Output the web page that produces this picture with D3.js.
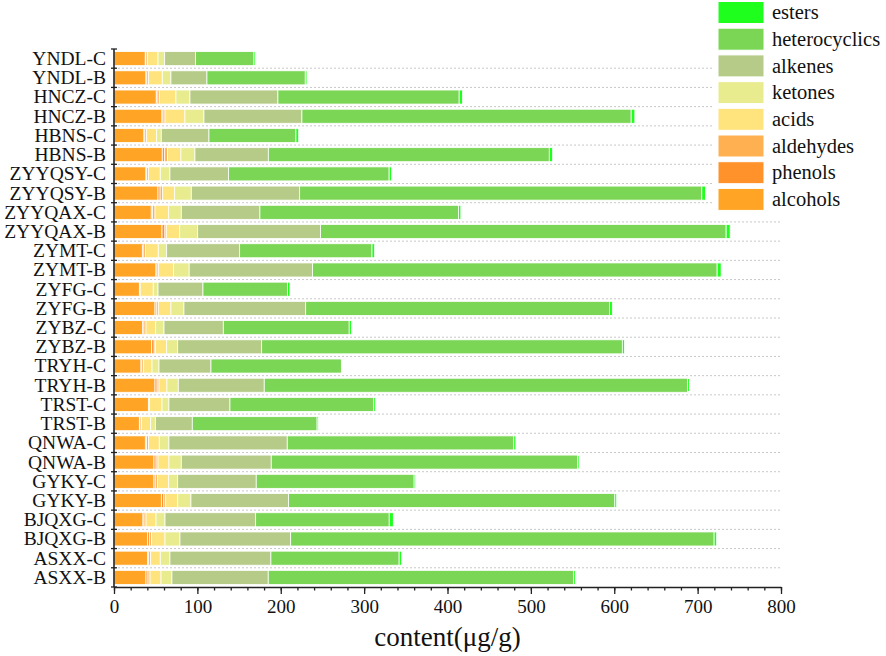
<!DOCTYPE html>
<html>
<head>
<meta charset="utf-8">
<script src="https://cdn.jsdelivr.net/npm/d3@7"></script>
<style>
  body { margin: 0; background: #fff; }
  svg { display: block; font-family: "Liberation Serif", "Times New Roman", serif; }
</style>
</head>
<body>
<script>
// categories, top to bottom
var categories = ["YNDL-C", "YNDL-B", "HNCZ-C", "HNCZ-B", "HBNS-C", "HBNS-B",
  "ZYYQSY-C", "ZYYQSY-B", "ZYYQAX-C", "ZYYQAX-B", "ZYMT-C", "ZYMT-B",
  "ZYFG-C", "ZYFG-B", "ZYBZ-C", "ZYBZ-B", "TRYH-C", "TRYH-B", "TRST-C", "TRST-B",
  "QNWA-C", "QNWA-B", "GYKY-C", "GYKY-B", "BJQXG-C", "BJQXG-B", "ASXX-C", "ASXX-B"];

var alcohols = [37.5, 38.4, 50.7, 57.6, 36.0, 57.9, 38.4, 52.8, 44.7, 57.6, 34.0, 50.4, 30.4, 49.2,
  34.4, 45.2, 32.4, 49.2, 41.2, 30.4, 37.6, 48.0, 48.0, 56.8, 34.8, 40.4, 40.4, 38.4];
var phenols = [0.8, 1.0, 1.0, 1.2, 1.0, 3.0, 0.8, 2.5, 1.5, 3.5, 1.0, 1.2, 0.3, 1.5,
  1.5, 3.0, 1.0, 2.5, 0.5, 0.8, 1.5, 2.5, 1.5, 3.0, 1.2, 2.4, 1.2, 2.4];
var aldehydes = [1.9, 2.2, 2.6, 2.4, 2.2, 3.4, 2.0, 3.1, 3.0, 1.6, 2.6, 2.0, 0.8, 2.4,
  2.5, 1.4, 2.2, 2.3, 1.0, 1.6, 2.5, 2.3, 2.5, 2.2, 2.4, 2.4, 2.4, 2.4];
var acids = [12.6, 16.3, 20.0, 23.9, 12.0, 16.0, 14.3, 14.4, 16.4, 16.1, 15.5, 17.9, 15.6, 15.2,
  11.6, 13.6, 10.0, 9.5, 14.9, 11.2, 12.7, 13.1, 13.6, 14.4, 12.0, 16.0, 11.5, 13.2];
var ketones = [8.0, 10.4, 16.8, 22.8, 5.5, 16.8, 11.6, 19.9, 15.1, 21.6, 10.1, 18.7, 5.7, 15.6,
  10.0, 13.2, 8.4, 13.6, 8.3, 5.6, 11.6, 14.8, 10.8, 15.9, 10.8, 17.9, 11.6, 13.1];
var alkenes = [36.9, 43.2, 105.5, 117.5, 57.2, 88.0, 70.4, 130.0, 94.3, 147.4, 87.5, 147.9, 53.9, 146.0,
  71.1, 100.7, 62.3, 103.1, 73.2, 44.3, 141.9, 107.9, 94.2, 117.1, 108.7, 132.8, 121.1, 115.5];
var heterocyclics = [70.2, 117.9, 217.4, 394.9, 104.3, 337.0, 192.5, 482.3, 238.3, 486.4, 158.7, 485.3, 101.5, 364.3,
  151.0, 432.6, 156.4, 507.9, 172.5, 149.7, 271.7, 367.6, 189.4, 391.3, 160.2, 507.9, 153.8, 366.0];
var esters = [1.8, 2.0, 4.0, 4.4, 3.3, 4.0, 3.0, 4.5, 2.7, 4.8, 3.2, 4.8, 2.8, 3.5,
  2.6, 2.5, 0.0, 2.1, 2.2, 1.3, 2.5, 1.7, 1.8, 2.2, 4.9, 3.0, 3.0, 2.2];

var seriesNames = ["alcohols", "phenols", "aldehydes", "acids", "ketones", "alkenes", "heterocyclics", "esters"];
var seriesValues = [alcohols, phenols, aldehydes, acids, ketones, alkenes, heterocyclics, esters];
var colors = ["#ffa424", "#ff922b", "#ffb152", "#ffe37c", "#e8ec8e", "#b5cb87", "#7ad654", "#1eff1e"];
var xTicks = [0, 100, 200, 300, 400, 500, 600, 700, 800];

var W = 886, H = 656;
var plotL = 114, plotR = 781, plotT = 49, plotB = 587;

var rows = categories.map(function (c, i) {
  var r = { cat: c };
  seriesNames.forEach(function (s, k) { r[s] = seriesValues[k][i]; });
  return r;
});
var stacked = d3.stack().keys(seriesNames)(rows);

var svg = d3.select(document.body).append("svg")
  .attr("width", W).attr("height", H);

var x = d3.scaleLinear().domain([0, 800]).range([plotL, plotR]);
var y = d3.scaleBand().domain(categories).range([plotT, plotB])
  .paddingInner(0.27).paddingOuter(0.135);
var step = y.step();

// dotted gridlines between bands
svg.append("g")
  .selectAll("line")
  .data(categories.slice(1))
  .join("line")
  .attr("x1", plotL).attr("x2", plotR)
  .attr("y1", function (d) { return y(d) - step * 0.135; })
  .attr("y2", function (d) { return y(d) - step * 0.135; })
  .attr("stroke", "#c8c8c8")
  .attr("stroke-width", 1)
  .attr("stroke-dasharray", "2,2");

// legend background hides the gridlines behind it
svg.append("rect")
  .attr("x", 714).attr("y", 0).attr("width", W - 714).attr("height", 214)
  .attr("fill", "#fff");

// bars
svg.append("g")
  .selectAll("g")
  .data(stacked)
  .join("g")
  .attr("fill", function (d, i) { return colors[i]; })
  .selectAll("rect")
  .data(function (d) { return d; })
  .join("rect")
  .attr("x", function (d) { return x(d[0]); })
  .attr("width", function (d) { return Math.max(0, x(d[1]) - x(d[0])); })
  .attr("y", function (d) { return y(d.data.cat); })
  .attr("height", y.bandwidth())
  .attr("stroke", "#fff")
  .attr("stroke-width", 0.8);

// x axis: minor then major ticks
var xMinor = svg.append("g").attr("transform", "translate(0," + plotB + ")");
xMinor.call(d3.axisBottom(x).tickValues(d3.range(0, 801, 20)).tickSize(3.5).tickFormat(""));
xMinor.select(".domain").remove();
var xMajor = svg.append("g").attr("transform", "translate(0," + plotB + ")");
xMajor.call(d3.axisBottom(x).tickValues(xTicks).tickSize(7).tickPadding(6).tickSizeOuter(0));
xMajor.selectAll("text")
  .style("font-size", "19px").style("font-family", "Liberation Serif").attr("fill", "#111");
svg.selectAll(".tick line").attr("stroke", "#222").attr("stroke-width", 1.3);
xMajor.select(".domain").attr("stroke", "#222").attr("stroke-width", 1.6);

// y axis
svg.append("line")
  .attr("x1", plotL).attr("x2", plotL).attr("y1", plotT).attr("y2", plotB)
  .attr("stroke", "#222").attr("stroke-width", 1.6);
svg.append("g")
  .selectAll("line")
  .data(d3.range(categories.length + 1))
  .join("line")
  .attr("x1", plotL - 3).attr("x2", plotL + 3)
  .attr("y1", function (i) { return plotT + i * step; })
  .attr("y2", function (i) { return plotT + i * step; })
  .attr("stroke", "#222").attr("stroke-width", 1.3);
svg.append("g")
  .selectAll("text")
  .data(categories)
  .join("text")
  .attr("x", plotL - 8)
  .attr("y", function (d) { return y(d) + y.bandwidth() / 2; })
  .attr("dy", "0.33em")
  .attr("text-anchor", "end")
  .style("font-size", "19.5px")
  .attr("fill", "#111")
  .text(function (d) { return d; });

// axis title
svg.append("text")
  .attr("x", (plotL + plotR) / 2).attr("y", 646)
  .attr("text-anchor", "middle")
  .style("font-size", "27px")
  .attr("fill", "#111")
  .text("content(μg/g)");

// legend (esters on top)
var legend = svg.append("g")
  .selectAll("g")
  .data(seriesNames.slice().reverse())
  .join("g")
  .attr("transform", function (d, i) { return "translate(718," + (1.5 + i * 26.7) + ")"; });
legend.append("rect")
  .attr("width", 46).attr("height", 22)
  .attr("fill", function (d) { return colors[seriesNames.indexOf(d)]; })
  .attr("stroke", "#fff").attr("stroke-width", 1);
legend.append("text")
  .attr("x", 54).attr("y", 11).attr("dy", "0.33em")
  .style("font-size", "20.5px")
  .attr("fill", "#111")
  .text(function (d) { return d; });
</script>
</body>
</html>
